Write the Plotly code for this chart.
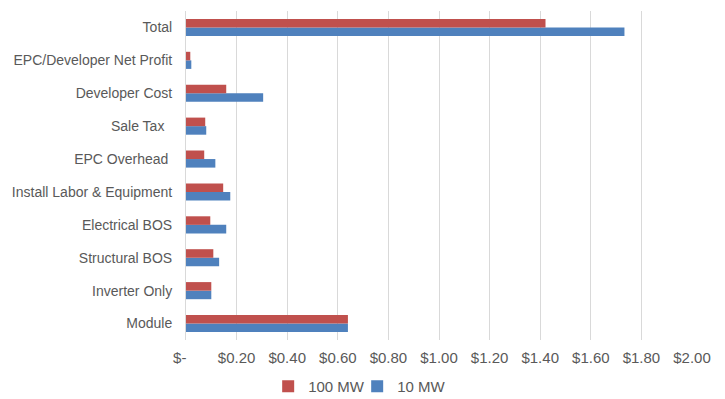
import plotly.graph_objects as go

categories = ["Module", "Inverter Only", "Structural BOS", "Electrical BOS",
              "Install Labor & Equipment", "EPC Overhead\u00a0", "Sale Tax\u00a0\u00a0",
              "Developer Cost", "EPC/Developer Net Profit", "Total"]
mw100 = [0.640, 0.100, 0.108, 0.096, 0.147, 0.072, 0.076, 0.159, 0.017, 1.421]
mw10 = [0.640, 0.100, 0.131, 0.159, 0.175, 0.116, 0.080, 0.305, 0.021, 1.733]
tick_vals = [0, 0.2, 0.4, 0.6, 0.8, 1.0, 1.2, 1.4, 1.6, 1.8, 2.0]
tick_text = ["$-\u00a0\u00a0\u00a0", "$0.20", "$0.40", "$0.60", "$0.80", "$1.00",
             "$1.20", "$1.40", "$1.60", "$1.80", "$2.00"]

fig = go.Figure()
fig.add_trace(go.Bar(y=categories, x=mw10, name="10 MW", orientation="h",
                     marker=dict(color="#4F81BD", line=dict(width=0))))
fig.add_trace(go.Bar(y=categories, x=mw100, name="100 MW", orientation="h",
                     marker=dict(color="#C0504D", line=dict(width=0))))

fig.update_layout(
    width=717, height=391,
    margin=dict(l=178, r=33, t=3, b=59, autoexpand=False),
    paper_bgcolor="white", plot_bgcolor="white",
    barmode="group", bargap=0.48, bargroupgap=0,
    font=dict(family="Liberation Sans, Arial, sans-serif", size=14.5, color="#595959"),
    xaxis=dict(range=[0, 2.0], tickvals=tick_vals, ticktext=tick_text,
               showgrid=True, gridcolor="#D9D9D9", gridwidth=1,
               zeroline=False, showline=False, ticks="", automargin=False,
               ticklabelstandoff=7,
               tickfont=dict(size=15, color="#595959")),
    yaxis=dict(categoryorder="array", categoryarray=categories,
               showline=True, linecolor="#D9D9D9", linewidth=1,
               showgrid=False, zeroline=False, ticks="", ticklabelstandoff=10,
               automargin=False,
               tickfont=dict(size=14, color="#595959")),
    showlegend=True,
    legend=dict(orientation="h", traceorder="reversed",
                xref="container", yref="container",
                x=0.487, xanchor="center", y=0.074, yanchor="top",
                font=dict(size=15, color="#595959"),
                itemwidth=30, entrywidth=44),
)

fig.write_html("out.html")
